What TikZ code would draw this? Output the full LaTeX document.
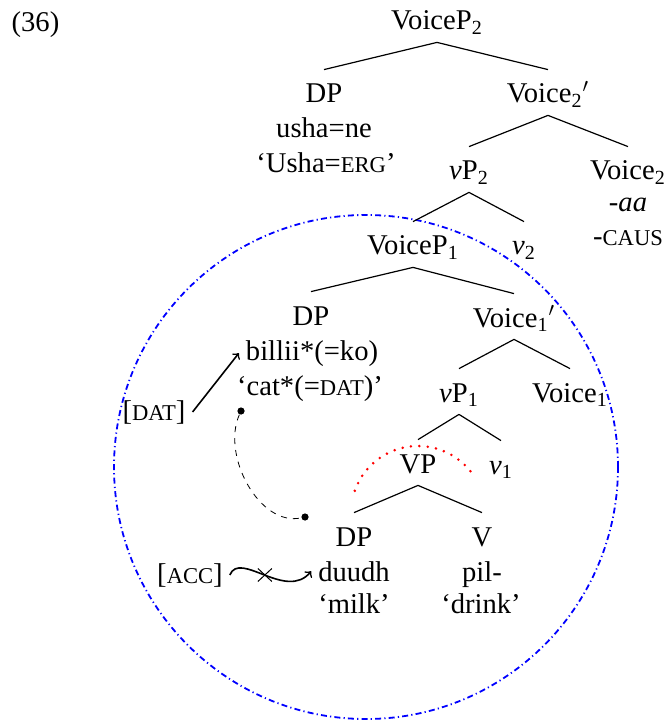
\documentclass[tikz,border=0pt]{standalone}
\usepackage{fontspec}
\setmainfont{Liberation Serif}
\usetikzlibrary{shapes.misc}

\newcommand{\smc}[1]{{\fontsize{11.3pt}{13pt}\selectfont #1}}
\newcommand{\low}[1]{\textsubscript{#1}}

\tikzset{
	cat/.style={anchor=base, inner ysep=1.5pt, text height=15pt, text depth=4.5pt},
	gloss/.style={anchor=base},
	branch/.style={line width=0.6pt},
	dot/.style={circle, fill, inner sep=0pt, minimum size=3.6pt},
	ring/.style={blue, line width=0.9pt, dash pattern=on 3pt off 1.6pt on 0.6pt off 1.6pt},
	dotarc/.style={red, line width=1.4pt, line cap=round, dash pattern=on 0pt off 4.2pt},
}

\begin{document}
\begin{tikzpicture}[x=0.5pt, y=0.5pt, font=\fontsize{14.3pt}{17.5pt}\selectfont]

	\useasboundingbox (0,0) rectangle (667,-721);

	% lower VoiceP and its arguments
	\coordinate (ringc) at (366,-467);
	\draw[ring] (ringc) circle[radius=252];

	\node[gloss] (ex) at (35.5,-32) {(36)};

	\node[cat] (vp2) at (437,-30) {VoiceP\low{2}};
	\node[cat] (dp2) at (324,-103) {DP};
	\node[gloss] (usha) at (324,-138) {usha=ne};
	\node[gloss] (ushagl) at (326,-173) {`Usha=\smc{ERG}'};
	\node[cat] (vbar2) at (548,-103) {Voice\low{2}$'$};
	\node[cat] (lvp2) at (469,-180) {\textit{v}P\low{2}};
	\node[cat] (voice2) at (628,-180) {Voice\low{2}};
	\node[gloss] (aa) at (628,-212) {-\textit{aa}};
	\node[gloss] (caus) at (628,-246) {-\smc{CAUS}};

	\node[cat] (vp1) at (413,-255) {VoiceP\low{1}};
	\node[cat] (lv2) at (524,-255) {\textit{v}\low{2}};
	\node[cat] (dp1) at (311,-325) {DP};
	\node[gloss] (billii) at (312,-360) {billii*(=ko)};
	\node[gloss] (catgl) at (310,-395) {`cat*(=\smc{DAT})'};
	\node[cat] (vbar1) at (514,-327) {Voice\low{1}$'$};
	\node[cat] (lvp1) at (459,-402) {\textit{v}P\low{1}};
	\node[cat] (voice1) at (570,-402) {Voice\low{1}};

	\node[cat] (vpn) at (418,-473) {VP};
	\node[cat] (lv1) at (501,-474) {\textit{v}\low{1}};
	\node[cat] (dp0) at (354,-546) {DP};
	\node[gloss] (duudh) at (354,-581) {duudh};
	\node[gloss] (milk) at (354,-613) {`milk'};
	\node[cat] (verb) at (482,-546) {V};
	\node[gloss] (pil) at (482,-581) {pil-};
	\node[gloss] (drink) at (481,-613) {`drink'};

	\node[gloss] (dat) at (154,-420) {[\smc{DAT}]};
	\node[gloss] (acc) at (190,-583) {[\smc{ACC}]};

	% branches
	\draw[branch] (vp2.south) -- (dp2.north);
	\draw[branch] (vp2.south) -- (vbar2.north);
	\draw[branch] (vbar2.south) -- (lvp2.north);
	\draw[branch] (vbar2.south) -- (voice2.north);
	\draw[branch] (lvp2.south) -- (vp1.north);
	\draw[branch] (lvp2.south) -- (lv2.north);
	\draw[branch] (vp1.south) -- (dp1.north);
	\draw[branch] (vp1.south) -- (vbar1.north);
	\draw[branch] (vbar1.south) -- (lvp1.north);
	\draw[branch] (vbar1.south) -- (voice1.north);
	\draw[branch] (lvp1.south) -- (vpn.north);
	\draw[branch] (lvp1.south) -- (lv1.north);
	\draw[branch] (vpn.south) -- (dp0.north);
	\draw[branch] (vpn.south) -- (verb.north);

	% phase edge over VP
	\coordinate (vpc) at (418,-513);
	\draw[dotarc] ([shift={(160.7:67)}]vpc) arc[start angle=160.7, end angle=34, radius=67];

	% case assignment
	\draw[line width=0.8pt, ->] (dat.east) -- (billii.west);
	\draw[line width=0.8pt, ->] (acc.east) .. controls +(10,25) and +(-25,-30) .. (duudh.west)
		node[pos=0.5, draw, cross out, line width=0.5pt, inner sep=0pt, minimum width=6.5pt, minimum height=6pt] (blk) {};

	\node[dot] (trA) at (241,-411) {};
	\node[dot] (trB) at (305,-517) {};
	\draw[dashed, line width=0.4pt] (trA) .. controls +(-20,-45) and +(-45,-10) .. (trB);

\end{tikzpicture}
\end{document}
